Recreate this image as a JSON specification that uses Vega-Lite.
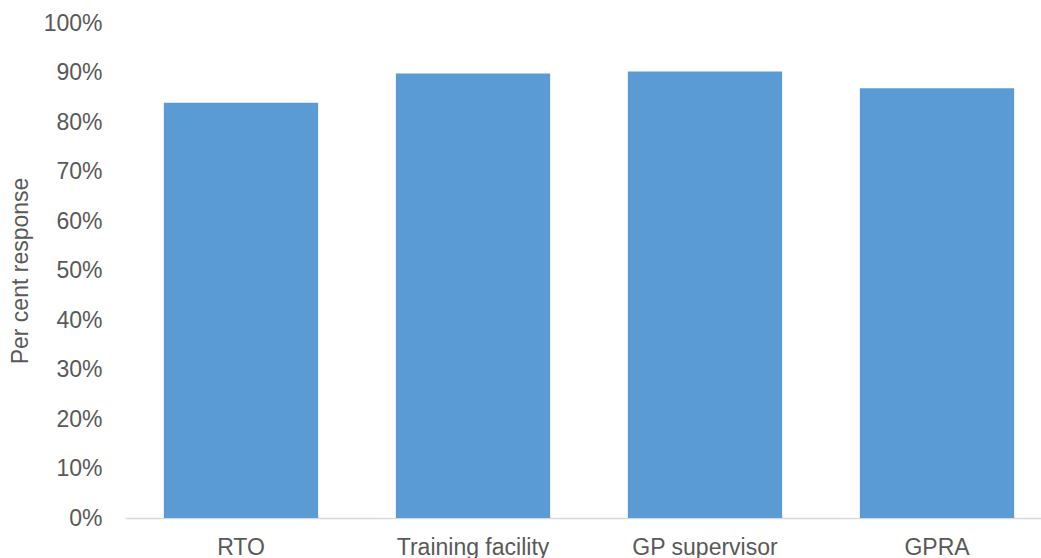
{
  "$schema": "https://vega.github.io/schema/vega-lite/v6.json",
  "autosize": "none",
  "padding": {"left": 125, "top": 23, "right": 0, "bottom": 40},
  "width": 928,
  "height": 495,
  "background": "white",
  "config": {
    "view": {"stroke": null},
    "font": "Liberation Sans",
    "axis": {"labelFont": "Liberation Sans", "titleFont": "Liberation Sans"}
  },
  "data": {
    "values": [
      {"category": "RTO", "share": 0.839},
      {"category": "Training facility", "share": 0.898},
      {"category": "GP supervisor", "share": 0.902},
      {"category": "GPRA", "share": 0.868}
    ]
  },
  "mark": {"type": "bar", "color": "#5B9BD5"},
  "encoding": {
    "x": {
      "field": "category",
      "type": "nominal",
      "sort": null,
      "scale": {"paddingInner": 0.335, "paddingOuter": 0.1675},
      "axis": {
        "title": null,
        "labelAngle": 0,
        "labelFontSize": 23,
        "labelColor": "#595959",
        "labelPadding": 18,
        "ticks": false,
        "domainColor": "#D9D9D9",
        "domainWidth": 1.5,
        "grid": false
      }
    },
    "y": {
      "field": "share",
      "type": "quantitative",
      "scale": {"domain": [0, 1]},
      "axis": {
        "title": "Per cent response",
        "titleFontSize": 23,
        "titleFontWeight": "normal",
        "titleColor": "#595959",
        "titlePadding": 11,
        "format": ".0%",
        "values": [0, 0.1, 0.2, 0.3, 0.4, 0.5, 0.6, 0.7, 0.8, 0.9, 1],
        "labelFontSize": 23,
        "labelColor": "#595959",
        "labelPadding": 23,
        "ticks": false,
        "domain": false,
        "grid": false
      }
    }
  }
}
